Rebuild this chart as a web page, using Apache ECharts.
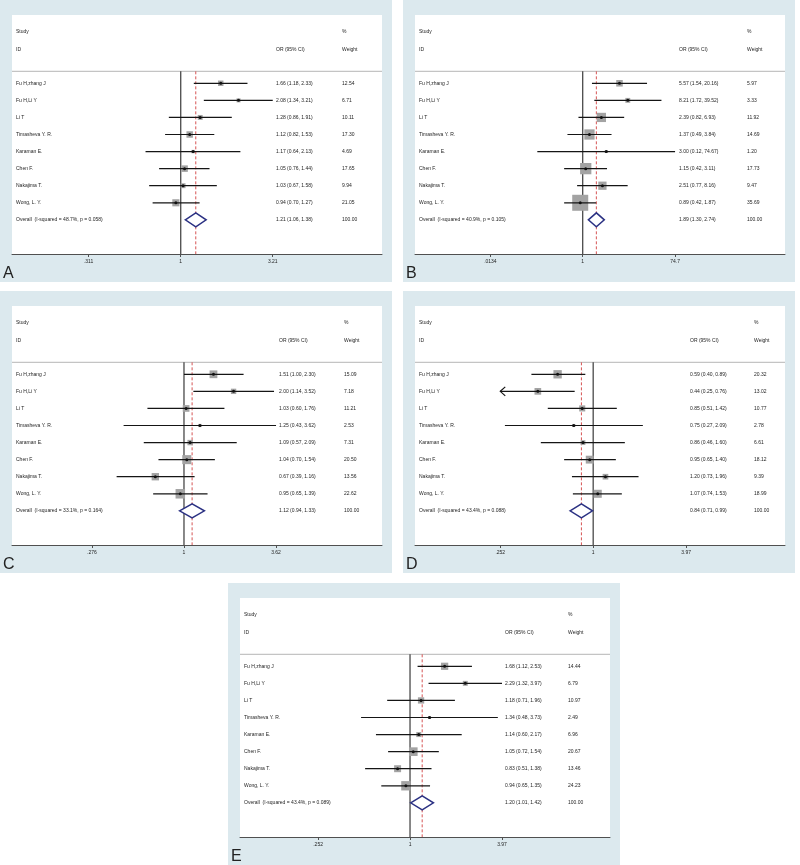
<!DOCTYPE html>
<html><head><meta charset="utf-8">
<script src="https://cdn.jsdelivr.net/npm/echarts@6/dist/echarts.min.js"></script>
<style>html,body{margin:0;padding:0;background:#fff}#c{width:800px;height:865px}</style>
</head><body><div id="c"></div>
<script>
// ---------- data ----------
const studyNames = ['Fu H,zhang J','Fu H,Li Y','Li T','Timasheva Y. R.','Karaman E.','Chen F.','Nakajima T.','Wong, L. Y.'];

const orA = [1.66, 2.08, 1.28, 1.12, 1.17, 1.05, 1.03, 0.94];
const lowA = [1.18, 1.34, 0.86, 0.82, 0.64, 0.76, 0.67, 0.70];
const highA = [2.33, 3.21, 1.91, 1.53, 2.13, 1.44, 1.58, 1.27];
const weightA = [12.54, 6.71, 10.11, 17.30, 4.69, 17.65, 9.94, 21.05];
const overallA = [1.21, 1.06, 1.38];
const hetA = 'Overall  (I-squared = 48.7%, p = 0.058)';
const ticksA = [0.311, 1, 3.21];
const tickLabelsA = ['.311', '1', '3.21'];

const orB = [5.57, 8.21, 2.39, 1.37, 3.00, 1.15, 2.51, 0.89];
const lowB = [1.54, 1.72, 0.82, 0.49, 0.12, 0.42, 0.77, 0.42];
const highB = [20.16, 39.52, 6.93, 3.84, 74.67, 3.11, 8.16, 1.87];
const weightB = [5.97, 3.33, 11.92, 14.69, 1.20, 17.73, 9.47, 35.69];
const overallB = [1.89, 1.30, 2.74];
const hetB = 'Overall  (I-squared = 40.9%, p = 0.105)';
const ticksB = [0.0134, 1, 74.7];
const tickLabelsB = ['.0134', '1', '74.7'];

const orC = [1.51, 2.00, 1.03, 1.25, 1.09, 1.04, 0.67, 0.95];
const lowC = [1.00, 1.14, 0.60, 0.43, 0.57, 0.70, 0.39, 0.65];
const highC = [2.30, 3.52, 1.76, 3.62, 2.09, 1.54, 1.16, 1.39];
const weightC = [15.09, 7.18, 11.21, 2.53, 7.31, 20.50, 13.56, 22.62];
const overallC = [1.12, 0.94, 1.33];
const hetC = 'Overall  (I-squared = 33.1%, p = 0.164)';
const ticksC = [0.276, 1, 3.62];
const tickLabelsC = ['.276', '1', '3.62'];

const orD = [0.59, 0.44, 0.85, 0.75, 0.86, 0.95, 1.20, 1.07];
const lowD = [0.40, 0.25, 0.51, 0.27, 0.46, 0.65, 0.73, 0.74];
const highD = [0.89, 0.76, 1.42, 2.09, 1.60, 1.40, 1.96, 1.53];
const weightD = [20.32, 13.02, 10.77, 2.78, 6.61, 18.12, 9.39, 18.99];
const overallD = [0.84, 0.71, 0.99];
const hetD = 'Overall  (I-squared = 43.4%, p = 0.088)';
const ticksD = [0.252, 1, 3.97];
const tickLabelsD = ['.252', '1', '3.97'];

const orE = [1.68, 2.29, 1.18, 1.34, 1.14, 1.05, 0.83, 0.94];
const lowE = [1.12, 1.32, 0.71, 0.48, 0.60, 0.72, 0.51, 0.65];
const highE = [2.53, 3.97, 1.96, 3.73, 2.17, 1.54, 1.38, 1.35];
const weightE = [14.44, 6.79, 10.97, 2.49, 6.96, 20.67, 13.46, 24.23];
const overallE = [1.20, 1.01, 1.42];
const hetE = 'Overall  (I-squared = 43.4%, p = 0.089)';
const ticksE = [0.252, 1, 3.97];
const tickLabelsE = ['.252', '1', '3.97'];

const panelLetters = ['A', 'B', 'C', 'D', 'E'];

// ---------- layout (positions / styles only) ----------
const layout = [
  {bx: 0,   by: 0,   xmin: -0.929, xmax: 1.108, k: 1.55, orX: 264, wtX: 330},
  {bx: 403, by: 0,   xmin: -3.402, xmax: 4.103, k: 2.68, orX: 264, wtX: 332},
  {bx: 0,   by: 291, xmin: -1.044, xmax: 1.202, k: 2.0,  orX: 267, wtX: 332},
  {bx: 403, by: 291, xmin: -1.148, xmax: 1.236, k: 1.85, orX: 275, wtX: 339},
  {bx: 228, by: 583, xmin: -1.107, xmax: 1.302, k: 1.9,  orX: 265, wtX: 328}
];
const PW = 392, PH = 282;
const FONT = '"Liberation Sans", Arial, sans-serif';
const FS = 5;
const TXT = '#1e1e1e';

const panels = [
  {or: orA, lo: lowA, hi: highA, wt: weightA, ov: overallA, het: hetA, ticks: ticksA, labels: tickLabelsA},
  {or: orB, lo: lowB, hi: highB, wt: weightB, ov: overallB, het: hetB, ticks: ticksB, labels: tickLabelsB},
  {or: orC, lo: lowC, hi: highC, wt: weightC, ov: overallC, het: hetC, ticks: ticksC, labels: tickLabelsC},
  {or: orD, lo: lowD, hi: highD, wt: weightD, ov: overallD, het: hetD, ticks: ticksD, labels: tickLabelsD},
  {or: orE, lo: lowE, hi: highE, wt: weightE, ov: overallE, het: hetE, ticks: ticksE, labels: tickLabelsE}
];

const fmt = v => v.toFixed(2);
const L = Math.log10;

function txt(x, y, s, align) {
  return {type: 'text', x: x, y: y, style: {text: s, fontSize: FS, fontFamily: FONT, fill: TXT, align: align || 'left', verticalAlign: 'middle'}};
}

const grids = [], xAxes = [], yAxes = [], series = [], graphics = [];

panels.forEach((p, i) => {
  const lay = layout[i];
  graphics.push({type: 'rect', z: -10, shape: {x: lay.bx, y: lay.by, width: PW, height: PH}, style: {fill: '#dce9ee'}});
  graphics.push({type: 'text', z: 10, x: lay.bx + 3, y: lay.by + 266, style: {text: panelLetters[i], fontSize: 16, fontFamily: FONT, fill: '#222'}});

  grids.push({left: lay.bx + 12, top: lay.by + 15, width: 370, height: 239, show: true, backgroundColor: '#ffffff', borderWidth: 0});
  const tickVals = p.ticks.map(t => L(t));
  xAxes.push({
    gridIndex: i, type: 'value', min: lay.xmin, max: lay.xmax,
    splitLine: {show: false},
    axisLine: {show: true, onZero: false, lineStyle: {color: '#505050', width: 1}},
    axisTick: {show: true, customValues: tickVals, length: 3, lineStyle: {color: '#505050', width: 1}},
    axisLabel: {
      show: true, customValues: tickVals, fontSize: FS, fontFamily: FONT, color: TXT, margin: 5,
      formatter: v => {
        const j = tickVals.findIndex(t => Math.abs(t - v) < 1e-6);
        return j >= 0 ? p.labels[j] : '';
      }
    }
  });
  yAxes.push({gridIndex: i, type: 'value', min: -4, max: 10, inverse: true, show: false});

  const clipLo = L(p.ticks[0]), clipHi = L(p.ticks[2]);

  // header + reference lines
  series.push({
    type: 'custom', xAxisIndex: i, yAxisIndex: i, z: 1, silent: true, clip: false,
    data: [[L(p.ov[0]), -0.7]],
    renderItem: (params, api) => {
      const cs = params.coordSys;
      const yLine = api.coord([0, api.value(1)])[1];
      const yBot = cs.y + cs.height;
      const x1 = api.coord([0, 0])[0];
      const xo = api.coord([api.value(0), 0])[0];
      const yS = api.coord([0, -3])[1], yI = api.coord([0, -2])[1];
      return {type: 'group', children: [
        {type: 'line', shape: {x1: cs.x, y1: yLine, x2: cs.x + cs.width, y2: yLine}, style: {stroke: '#c4c4c4', lineWidth: 1.2}},
        {type: 'line', shape: {x1: x1, y1: yLine, x2: x1, y2: yBot}, style: {stroke: '#3a3a3a', lineWidth: 1.2}},
        {type: 'line', shape: {x1: xo, y1: yLine, x2: xo, y2: yBot}, style: {stroke: '#d65454', lineWidth: 1, lineDash: [3, 2]}},
        txt(cs.x + 4, yS, 'Study'),
        txt(cs.x + 4, yI, 'ID'),
        txt(cs.x + lay.orX, yI, 'OR (95% CI)'),
        txt(cs.x + lay.wtX, yS, '%'),
        txt(cs.x + lay.wtX, yI, 'Weight')
      ]};
    }
  });

  // studies
  series.push({
    type: 'custom', xAxisIndex: i, yAxisIndex: i, z: 2, silent: true, clip: false,
    encode: {x: 0, y: 4},
    data: p.or.map((v, j) => [L(v), L(p.lo[j]), L(p.hi[j]), p.wt[j], j]),
    renderItem: (params, api) => {
      const cs = params.coordSys;
      const j = api.value(4);
      const est = api.value(0), lo = api.value(1), hi = api.value(2), w = api.value(3);
      const c = api.coord([est, j]);
      const y = c[1];
      const xl = api.coord([Math.max(lo, clipLo), j])[0];
      const xh = api.coord([Math.min(hi, clipHi), j])[0];
      const s = lay.k * Math.sqrt(w);
      const ch = [
        {type: 'rect', shape: {x: c[0] - s / 2, y: y - s / 2, width: s, height: s}, style: {fill: '#a3a3a3'}},
        {type: 'line', shape: {x1: xl, y1: y, x2: xh, y2: y}, style: {stroke: '#151515', lineWidth: 1.2}},
        {type: 'circle', shape: {cx: c[0], cy: y, r: 1.5}, style: {fill: '#111'}},
        txt(cs.x + 4, y, studyNames[j]),
        txt(cs.x + lay.orX, y, fmt(p.or[j]) + ' (' + fmt(p.lo[j]) + ', ' + fmt(p.hi[j]) + ')'),
        txt(cs.x + lay.wtX, y, fmt(p.wt[j]))
      ];
      if (lo < clipLo) ch.push({type: 'polyline', shape: {points: [[xl + 5, y - 4.5], [xl, y], [xl + 5, y + 4.5]]}, style: {stroke: '#151515', lineWidth: 1.2, fill: null}});
      if (hi > clipHi) ch.push({type: 'polyline', shape: {points: [[xh - 5, y - 4.5], [xh, y], [xh - 5, y + 4.5]]}, style: {stroke: '#151515', lineWidth: 1.2, fill: null}});
      return {type: 'group', children: ch};
    }
  });

  // overall diamond
  series.push({
    type: 'custom', xAxisIndex: i, yAxisIndex: i, z: 3, silent: true, clip: false,
    data: [[L(p.ov[0]), L(p.ov[1]), L(p.ov[2]), 8]],
    renderItem: (params, api) => {
      const cs = params.coordSys;
      const row = api.value(3);
      const c = api.coord([api.value(0), row]);
      const xl = api.coord([api.value(1), row])[0];
      const xh = api.coord([api.value(2), row])[0];
      const y = c[1], h = 7;
      return {type: 'group', children: [
        {type: 'polygon', shape: {points: [[xl, y], [c[0], y - h], [xh, y], [c[0], y + h]]}, style: {fill: '#fff', stroke: '#2b3183', lineWidth: 1.5}},
        txt(cs.x + 4, y, p.het),
        txt(cs.x + lay.orX, y, fmt(p.ov[0]) + ' (' + fmt(p.ov[1]) + ', ' + fmt(p.ov[2]) + ')'),
        txt(cs.x + lay.wtX, y, '100.00')
      ]};
    }
  });
});

const chart = echarts.init(document.getElementById('c'), null, {renderer: 'canvas'});
chart.setOption({
  animation: false,
  backgroundColor: '#ffffff',
  grid: grids, xAxis: xAxes, yAxis: yAxes, series: series,
  graphic: graphics
});
</script></body></html>
